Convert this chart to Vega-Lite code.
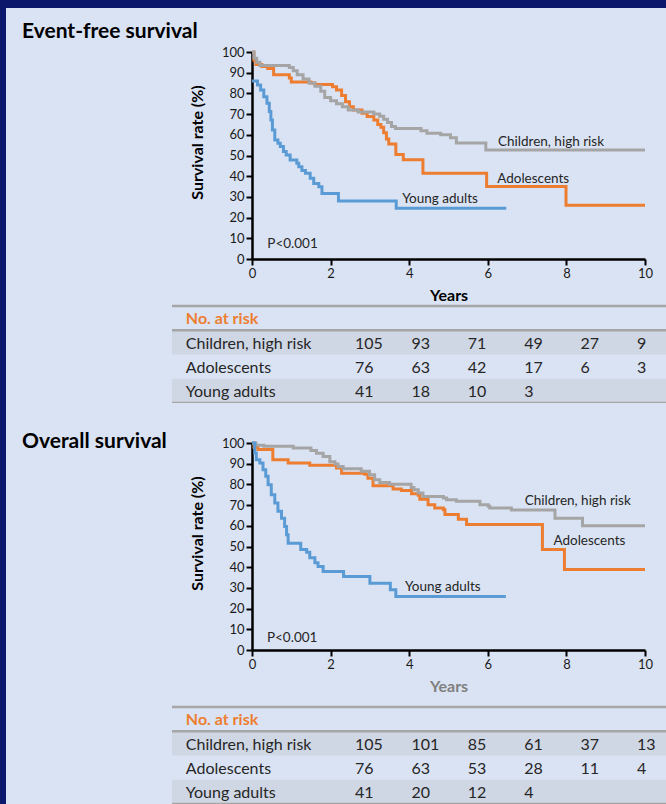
{
  "$schema": "https://vega.github.io/schema/vega-lite/v6.json",
  "background": "#0b176b",
  "padding": {"left": 6, "top": 8, "right": 0, "bottom": 0},
  "autosize": {"type": "pad"},
  "config": {
    "view": {"stroke": null, "fill": "#dae3f3"},
    "font": "Lato",
    "axis": {"domainColor": "#000000", "domainWidth": 2.5, "tickColor": "#000000", "tickWidth": 2, "tickSize": 6, "labelColor": "#1a1a1a", "labelFont": "Lato", "labelFontSize": 13, "labelPadding": 2, "titleFont": "Lato", "titleFontSize": 16, "titleFontWeight": "bold", "titleColor": "#000000", "grid": false, "labelFlush": false, "labelOverlap": false}
  },
  "datasets": {
    "efs": [
      {"g":"A","t":0,"s":100},{"g":"A","t":0.05,"s":96},{"g":"A","t":0.1,"s":94},{"g":"A","t":0.25,"s":93},{"g":"A","t":0.4,"s":92},{"g":"A","t":0.55,"s":89},{"g":"A","t":0.95,"s":87.5},{"g":"A","t":1.0,"s":85.5},{"g":"A","t":1.5,"s":85},{"g":"A","t":1.6,"s":84.3},{"g":"A","t":2.05,"s":83.2},{"g":"A","t":2.15,"s":81.6},{"g":"A","t":2.28,"s":79},{"g":"A","t":2.38,"s":76},{"g":"A","t":2.48,"s":73.6},{"g":"A","t":2.58,"s":72},{"g":"A","t":2.8,"s":70.4},{"g":"A","t":2.93,"s":68.8},{"g":"A","t":3.1,"s":67.1},{"g":"A","t":3.2,"s":65},{"g":"A","t":3.28,"s":63.6},{"g":"A","t":3.35,"s":61},{"g":"A","t":3.42,"s":58},{"g":"A","t":3.48,"s":55.5},{"g":"A","t":3.66,"s":50.5},{"g":"A","t":3.85,"s":48},{"g":"A","t":4.35,"s":41.4},{"g":"A","t":5.97,"s":35},{"g":"A","t":7.99,"s":26},{"g":"A","t":10,"s":26},
      {"g":"C","t":0,"s":100},{"g":"C","t":0.05,"s":97},{"g":"C","t":0.12,"s":95},{"g":"C","t":0.2,"s":93.5},{"g":"C","t":0.95,"s":92.5},{"g":"C","t":1.05,"s":91},{"g":"C","t":1.15,"s":89},{"g":"C","t":1.3,"s":87},{"g":"C","t":1.45,"s":85},{"g":"C","t":1.6,"s":83.5},{"g":"C","t":1.75,"s":81},{"g":"C","t":1.85,"s":78},{"g":"C","t":2.0,"s":76.5},{"g":"C","t":2.15,"s":75},{"g":"C","t":2.3,"s":73.5},{"g":"C","t":2.45,"s":72},{"g":"C","t":2.7,"s":71},{"g":"C","t":3.1,"s":70},{"g":"C","t":3.25,"s":69},{"g":"C","t":3.35,"s":67.5},{"g":"C","t":3.45,"s":66},{"g":"C","t":3.55,"s":64},{"g":"C","t":3.65,"s":63},{"g":"C","t":4.3,"s":62},{"g":"C","t":4.45,"s":60.7},{"g":"C","t":4.8,"s":60},{"g":"C","t":5.05,"s":58.6},{"g":"C","t":5.2,"s":56},{"g":"C","t":5.95,"s":52.7},{"g":"C","t":10,"s":52.7},
      {"g":"Y","t":0,"s":86},{"g":"Y","t":0.14,"s":84},{"g":"Y","t":0.22,"s":81.6},{"g":"Y","t":0.3,"s":78.4},{"g":"Y","t":0.38,"s":75.2},{"g":"Y","t":0.44,"s":71.2},{"g":"Y","t":0.48,"s":67.1},{"g":"Y","t":0.52,"s":62.3},{"g":"Y","t":0.58,"s":57.5},{"g":"Y","t":0.66,"s":55.9},{"g":"Y","t":0.72,"s":54.3},{"g":"Y","t":0.8,"s":51.9},{"g":"Y","t":0.87,"s":50.2},{"g":"Y","t":0.97,"s":47.8},{"g":"Y","t":1.14,"s":46.2},{"g":"Y","t":1.19,"s":44.6},{"g":"Y","t":1.27,"s":42.7},{"g":"Y","t":1.36,"s":41.4},{"g":"Y","t":1.48,"s":39},{"g":"Y","t":1.57,"s":36.5},{"g":"Y","t":1.7,"s":34.9},{"g":"Y","t":1.78,"s":31.7},{"g":"Y","t":2.2,"s":28},{"g":"Y","t":3.67,"s":24.5},{"g":"Y","t":6.47,"s":24.5}
    ],
    "os": [
      {"g":"A","t":0,"s":100},{"g":"A","t":0.05,"s":98},{"g":"A","t":0.15,"s":96.8},{"g":"A","t":0.53,"s":91.9},{"g":"A","t":0.92,"s":90.3},{"g":"A","t":1.47,"s":89.2},{"g":"A","t":2.15,"s":87.9},{"g":"A","t":2.28,"s":85.4},{"g":"A","t":2.87,"s":84.9},{"g":"A","t":2.95,"s":83},{"g":"A","t":3.08,"s":79.4},{"g":"A","t":3.59,"s":77.8},{"g":"A","t":3.8,"s":77},{"g":"A","t":4.06,"s":75.5},{"g":"A","t":4.23,"s":74.7},{"g":"A","t":4.27,"s":72.8},{"g":"A","t":4.48,"s":70.2},{"g":"A","t":4.65,"s":68.6},{"g":"A","t":4.87,"s":67.8},{"g":"A","t":4.91,"s":65.4},{"g":"A","t":5.25,"s":63.2},{"g":"A","t":5.46,"s":60.6},{"g":"A","t":7.39,"s":48.5},{"g":"A","t":7.95,"s":38.9},{"g":"A","t":10,"s":38.9},
      {"g":"C","t":0,"s":100},{"g":"C","t":0.1,"s":98.9},{"g":"C","t":0.3,"s":98.4},{"g":"C","t":1.05,"s":97.6},{"g":"C","t":1.5,"s":96.4},{"g":"C","t":1.64,"s":95.1},{"g":"C","t":1.81,"s":93.5},{"g":"C","t":1.98,"s":91},{"g":"C","t":2.11,"s":89.8},{"g":"C","t":2.19,"s":88.7},{"g":"C","t":2.32,"s":87.6},{"g":"C","t":2.78,"s":86.3},{"g":"C","t":2.99,"s":84.7},{"g":"C","t":3.12,"s":82.2},{"g":"C","t":3.25,"s":80.9},{"g":"C","t":3.5,"s":80.1},{"g":"C","t":4.05,"s":78.5},{"g":"C","t":4.12,"s":77.4},{"g":"C","t":4.23,"s":75.8},{"g":"C","t":4.35,"s":74.2},{"g":"C","t":4.87,"s":73.4},{"g":"C","t":4.95,"s":72.6},{"g":"C","t":5.2,"s":71.8},{"g":"C","t":5.8,"s":70.2},{"g":"C","t":6.01,"s":69.4},{"g":"C","t":6.05,"s":68.6},{"g":"C","t":6.6,"s":67.6},{"g":"C","t":7.71,"s":63.7},{"g":"C","t":8.41,"s":60},{"g":"C","t":10,"s":60},
      {"g":"Y","t":0,"s":100},{"g":"Y","t":0.07,"s":95.2},{"g":"Y","t":0.11,"s":91.9},{"g":"Y","t":0.2,"s":90.3},{"g":"Y","t":0.28,"s":87.1},{"g":"Y","t":0.35,"s":83.9},{"g":"Y","t":0.41,"s":79.8},{"g":"Y","t":0.49,"s":75},{"g":"Y","t":0.58,"s":71},{"g":"Y","t":0.66,"s":67},{"g":"Y","t":0.75,"s":63.7},{"g":"Y","t":0.83,"s":59.7},{"g":"Y","t":0.88,"s":55.7},{"g":"Y","t":0.92,"s":51.6},{"g":"Y","t":1.24,"s":48.5},{"g":"Y","t":1.39,"s":47.2},{"g":"Y","t":1.47,"s":44.6},{"g":"Y","t":1.6,"s":42.2},{"g":"Y","t":1.68,"s":40.3},{"g":"Y","t":1.81,"s":37.9},{"g":"Y","t":2.33,"s":35.5},{"g":"Y","t":3.0,"s":32.3},{"g":"Y","t":3.52,"s":29.1},{"g":"Y","t":3.66,"s":25.8},{"g":"Y","t":6.46,"s":25.8}
    ],
    "efsLabels": [
      {"t":6.26,"s":56.5,"text":"Children, high risk"},
      {"t":6.24,"s":38.6,"text":"Adolescents"},
      {"t":3.82,"s":29,"text":"Young adults"},
      {"t":0.39,"s":7.2,"text":"P<0.001"}
    ],
    "osLabels": [
      {"t":6.94,"s":71.8,"text":"Children, high risk"},
      {"t":7.67,"s":52.8,"text":"Adolescents"},
      {"t":3.89,"s":30.3,"text":"Young adults"},
      {"t":0.38,"s":6.0,"text":"P<0.001"}
    ],
    "efsTable": [
      {"row":"Children, high risk","year":0,"n":"105"},{"row":"Children, high risk","year":2,"n":"93"},{"row":"Children, high risk","year":4,"n":"71"},{"row":"Children, high risk","year":6,"n":"49"},{"row":"Children, high risk","year":8,"n":"27"},{"row":"Children, high risk","year":10,"n":"9"},
      {"row":"Adolescents","year":0,"n":"76"},{"row":"Adolescents","year":2,"n":"63"},{"row":"Adolescents","year":4,"n":"42"},{"row":"Adolescents","year":6,"n":"17"},{"row":"Adolescents","year":8,"n":"6"},{"row":"Adolescents","year":10,"n":"3"},
      {"row":"Young adults","year":0,"n":"41"},{"row":"Young adults","year":2,"n":"18"},{"row":"Young adults","year":4,"n":"10"},{"row":"Young adults","year":6,"n":"3"}
    ],
    "osTable": [
      {"row":"Children, high risk","year":0,"n":"105"},{"row":"Children, high risk","year":2,"n":"101"},{"row":"Children, high risk","year":4,"n":"85"},{"row":"Children, high risk","year":6,"n":"61"},{"row":"Children, high risk","year":8,"n":"37"},{"row":"Children, high risk","year":10,"n":"13"},
      {"row":"Adolescents","year":0,"n":"76"},{"row":"Adolescents","year":2,"n":"63"},{"row":"Adolescents","year":4,"n":"53"},{"row":"Adolescents","year":6,"n":"28"},{"row":"Adolescents","year":8,"n":"11"},{"row":"Adolescents","year":10,"n":"4"},
      {"row":"Young adults","year":0,"n":"41"},{"row":"Young adults","year":2,"n":"20"},{"row":"Young adults","year":4,"n":"12"},{"row":"Young adults","year":6,"n":"4"}
    ],
    "rowsShaded": [{"row": "Children, high risk"}, {"row": "Young adults"}],
    "rowsTopRules": [{"row": "No. at risk"}, {"row": "Children, high risk"}],
    "rowsBottomRule": [{"row": "Young adults"}],
    "rowLabels": [{"row": "Children, high risk"}, {"row": "Adolescents"}, {"row": "Young adults"}],
    "header": [{"row": "No. at risk"}]
  },
  "spacing": 0,
  "bounds": "flush",
  "vconcat": [
    {
      "width": 660,
      "height": 298,
      "title": {"text": "Event-free survival", "anchor": "start", "frame": "group", "dx": 16, "offset": -34, "fontSize": 21, "fontWeight": "bold", "color": "#000000", "font": "Lato"},
      "layer": [
        {
          "data": {"name": "efs"},
          "mark": {"type": "line", "interpolate": "step-after", "strokeWidth": 3},
          "encoding": {
            "x": {"field": "t", "type": "quantitative", "scale": {"domain": [0, 10], "nice": false, "range": [246, 639]}, "axis": {"values": [0, 2, 4, 6, 8, 10], "format": "d", "title": "Years", "titlePadding": 7, "titleColor": "#000000", "offset": -47}},
            "y": {"field": "s", "type": "quantitative", "scale": {"domain": [0, 100], "nice": false, "range": [251, 44]}, "axis": {"values": [0, 10, 20, 30, 40, 50, 60, 70, 80, 90, 100], "format": "d", "title": "Survival rate (%)", "titlePadding": 16, "titleY": 134, "offset": -246}},
            "color": {"field": "g", "type": "nominal", "scale": {"domain": ["A", "C", "Y"], "range": ["#ed7d31", "#a5a5a5", "#5b9bd5"]}, "legend": null}
          }
        },
        {
          "data": {"name": "efsLabels"},
          "mark": {"type": "text", "align": "left", "baseline": "middle", "fontSize": 13.5, "color": "#262626"},
          "encoding": {
            "x": {"field": "t", "type": "quantitative", "scale": {"domain": [0, 10], "nice": false, "range": [246, 639]}, "axis": {"values": [0, 2, 4, 6, 8, 10], "format": "d", "title": "Years", "titlePadding": 7, "titleColor": "#000000", "offset": -47}},
            "y": {"field": "s", "type": "quantitative", "scale": {"domain": [0, 100], "nice": false, "range": [251, 44]}, "axis": {"values": [0, 10, 20, 30, 40, 50, 60, 70, 80, 90, 100], "format": "d", "title": "Survival rate (%)", "titlePadding": 16, "titleY": 134, "offset": -246}},
            "text": {"field": "text"}
          }
        }
      ]
    },
    {
      "width": 660,
      "height": 97,
      "layer": [
        {
          "data": {"name": "rowsShaded"},
          "mark": {"type": "rect", "color": "#cfd6e4"},
          "encoding": {
            "y": {"field": "row", "type": "nominal", "scale": {"type": "band", "domain": ["No. at risk", "Children, high risk", "Adolescents", "Young adults"], "paddingInner": 0, "paddingOuter": 0}, "axis": null},
            "x": {"datum": -6.49, "type": "quantitative", "scale": {"domain": [-6.49, 11.03], "nice": false, "zero": false, "range": [166, 660]}, "axis": null},
            "x2": {"datum": 11.03}
          }
        },
        {
          "data": {"name": "rowsTopRules"},
          "mark": {"type": "rule", "color": "#a6a6a6", "strokeWidth": 2.5},
          "encoding": {"y": {"field": "row", "type": "nominal", "bandPosition": 0}, "x": {"datum": -6.49}, "x2": {"datum": 11.03}}
        },
        {
          "data": {"name": "rowsBottomRule"},
          "mark": {"type": "rule", "color": "#a6a6a6", "strokeWidth": 2.5},
          "encoding": {"y": {"field": "row", "type": "nominal", "bandPosition": 1}, "x": {"datum": -6.49}, "x2": {"datum": 11.03}}
        },
        {
          "data": {"name": "rowLabels"},
          "mark": {"type": "text", "align": "left", "baseline": "middle", "dy": 1.5, "fontSize": 16, "color": "#262626"},
          "encoding": {"y": {"field": "row", "type": "nominal", "bandPosition": 0.5}, "x": {"datum": -6}, "text": {"field": "row"}}
        },
        {
          "data": {"name": "header"},
          "mark": {"type": "text", "align": "left", "baseline": "middle", "dy": 1, "fontSize": 16, "fontWeight": "bold", "color": "#ed7d31"},
          "encoding": {"y": {"field": "row", "type": "nominal", "bandPosition": 0.5}, "x": {"datum": -6}, "text": {"field": "row"}}
        },
        {
          "data": {"name": "efsTable"},
          "mark": {"type": "text", "align": "left", "baseline": "middle", "dy": 1.5, "fontSize": 16, "color": "#262626"},
          "encoding": {"y": {"field": "row", "type": "nominal", "bandPosition": 0.5}, "x": {"field": "year", "type": "quantitative"}, "text": {"field": "n"}}
        }
      ]
    },
    {
      "width": 660,
      "height": 304,
      "title": {"text": "Overall survival", "anchor": "start", "frame": "group", "dx": 16, "offset": -49, "fontSize": 21, "fontWeight": "bold", "color": "#000000", "font": "Lato"},
      "layer": [
        {
          "data": {"name": "os"},
          "mark": {"type": "line", "interpolate": "step-after", "strokeWidth": 3},
          "encoding": {
            "x": {"field": "t", "type": "quantitative", "scale": {"domain": [0, 10], "nice": false, "range": [246, 639]}, "axis": {"values": [0, 2, 4, 6, 8, 10], "format": "d", "title": "Years", "titlePadding": 7, "titleColor": "#7f7f7f", "offset": -57}},
            "y": {"field": "s", "type": "quantitative", "scale": {"domain": [0, 100], "nice": false, "range": [247, 40]}, "axis": {"values": [0, 10, 20, 30, 40, 50, 60, 70, 80, 90, 100], "format": "d", "title": "Survival rate (%)", "titlePadding": 16, "titleY": 130, "offset": -246}},
            "color": {"field": "g", "type": "nominal", "scale": {"domain": ["A", "C", "Y"], "range": ["#ed7d31", "#a5a5a5", "#5b9bd5"]}, "legend": null}
          }
        },
        {
          "data": {"name": "osLabels"},
          "mark": {"type": "text", "align": "left", "baseline": "middle", "fontSize": 13.5, "color": "#262626"},
          "encoding": {
            "x": {"field": "t", "type": "quantitative", "scale": {"domain": [0, 10], "nice": false, "range": [246, 639]}, "axis": {"values": [0, 2, 4, 6, 8, 10], "format": "d", "title": "Years", "titlePadding": 7, "titleColor": "#7f7f7f", "offset": -57}},
            "y": {"field": "s", "type": "quantitative", "scale": {"domain": [0, 100], "nice": false, "range": [247, 40]}, "axis": {"values": [0, 10, 20, 30, 40, 50, 60, 70, 80, 90, 100], "format": "d", "title": "Survival rate (%)", "titlePadding": 16, "titleY": 130, "offset": -246}},
            "text": {"field": "text"}
          }
        }
      ]
    },
    {
      "width": 660,
      "height": 97,
      "layer": [
        {
          "data": {"name": "rowsShaded"},
          "mark": {"type": "rect", "color": "#cfd6e4"},
          "encoding": {
            "y": {"field": "row", "type": "nominal", "scale": {"type": "band", "domain": ["No. at risk", "Children, high risk", "Adolescents", "Young adults"], "paddingInner": 0, "paddingOuter": 0}, "axis": null},
            "x": {"datum": -6.49, "type": "quantitative", "scale": {"domain": [-6.49, 11.03], "nice": false, "zero": false, "range": [166, 660]}, "axis": null},
            "x2": {"datum": 11.03}
          }
        },
        {
          "data": {"name": "rowsTopRules"},
          "mark": {"type": "rule", "color": "#a6a6a6", "strokeWidth": 2.5},
          "encoding": {"y": {"field": "row", "type": "nominal", "bandPosition": 0}, "x": {"datum": -6.49}, "x2": {"datum": 11.03}}
        },
        {
          "data": {"name": "rowsBottomRule"},
          "mark": {"type": "rule", "color": "#a6a6a6", "strokeWidth": 2.5},
          "encoding": {"y": {"field": "row", "type": "nominal", "bandPosition": 1}, "x": {"datum": -6.49}, "x2": {"datum": 11.03}}
        },
        {
          "data": {"name": "rowLabels"},
          "mark": {"type": "text", "align": "left", "baseline": "middle", "dy": 1.5, "fontSize": 16, "color": "#262626"},
          "encoding": {"y": {"field": "row", "type": "nominal", "bandPosition": 0.5}, "x": {"datum": -6}, "text": {"field": "row"}}
        },
        {
          "data": {"name": "header"},
          "mark": {"type": "text", "align": "left", "baseline": "middle", "dy": 1, "fontSize": 16, "fontWeight": "bold", "color": "#ed7d31"},
          "encoding": {"y": {"field": "row", "type": "nominal", "bandPosition": 0.5}, "x": {"datum": -6}, "text": {"field": "row"}}
        },
        {
          "data": {"name": "osTable"},
          "mark": {"type": "text", "align": "left", "baseline": "middle", "dy": 1.5, "fontSize": 16, "color": "#262626"},
          "encoding": {"y": {"field": "row", "type": "nominal", "bandPosition": 0.5}, "x": {"field": "year", "type": "quantitative"}, "text": {"field": "n"}}
        }
      ]
    }
  ]
}
